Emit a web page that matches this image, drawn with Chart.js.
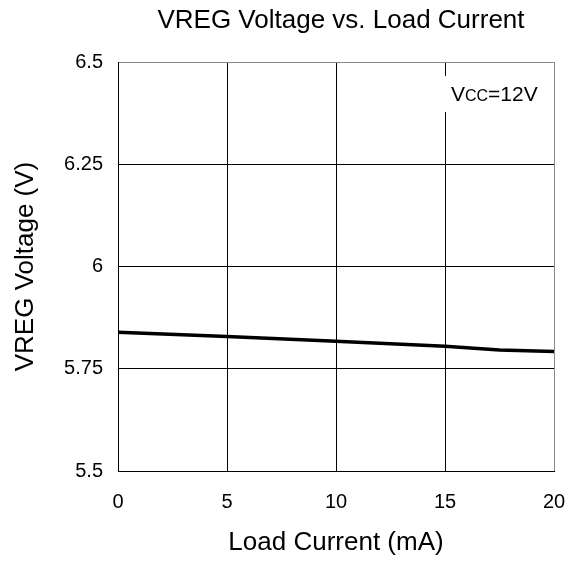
<!DOCTYPE html>
<html lang="en">
<head>
  <meta charset="UTF-8" />
  <title>VREG Voltage vs. Load Current</title>
  <script src="https://cdn.jsdelivr.net/npm/chart.js"></script>
  <style>
    html, body { margin: 0; padding: 0; background: #fff; }
    #wrap { width: 575px; height: 563px; position: relative; }
  </style>
</head>
<body>
  <div id="wrap"><canvas id="vregChart"></canvas></div>

  <script>
    // data
    const loadCurrent = [0, 5, 10, 15, 17.5, 20];
    const vregVoltage = [5.839, 5.829, 5.817, 5.805, 5.796, 5.792];

    const xTickValues = [0, 5, 10, 15, 20];
    const xTickLabels = ['0', '5', '10', '15', '20'];
    const yTickValues = [5.5, 5.75, 6, 6.25, 6.5];
    const yTickLabels = ['5.5', '5.75', '6', '6.25', '6.5'];

    const chartTitle = 'VREG Voltage vs. Load Current';
    const FONT = 'Liberation Sans, Arial, sans-serif';

    // title centred over the plot area, not the whole canvas
    const plotTitle = {
      id: 'plotTitle',
      afterDraw(chart) {
        const { ctx, chartArea } = chart;
        ctx.save();
        ctx.fillStyle = '#000';
        ctx.font = '26px ' + FONT;
        ctx.textAlign = 'center';
        ctx.textBaseline = 'middle';
        ctx.fillText(chartTitle, (chartArea.left + chartArea.right) / 2 + 5, 21);
        ctx.restore();
      }
    };

    // white label box "VCC=12V" in the upper right corner
    const vccLabel = {
      id: 'vccLabel',
      afterDatasetsDraw(chart) {
        const { ctx, scales: { x, y } } = chart;
        const left = x.getPixelForValue(14.95);
        const right = x.right - 1;
        const top = y.getPixelForValue(6.466);
        const bottom = y.getPixelForValue(6.378);
        ctx.save();
        ctx.fillStyle = '#fff';
        ctx.fillRect(left, top, right - left, bottom - top);
        ctx.fillStyle = '#000';
        ctx.textBaseline = 'alphabetic';
        let tx = left + 7;
        const base = (top + bottom) / 2 + 7;
        ctx.font = '21px ' + FONT;
        ctx.fillText('V', tx, base);
        tx += ctx.measureText('V').width;
        ctx.font = '16px ' + FONT;
        ctx.fillText('CC', tx, base);
        tx += ctx.measureText('CC').width;
        ctx.font = '21px ' + FONT;
        ctx.fillText('=12V', tx, base);
        ctx.restore();
      }
    };

    const ctx = document.getElementById('vregChart').getContext('2d');
    new Chart(ctx, {
      type: 'scatter',
      data: {
        datasets: [{
          data: loadCurrent.map((v, i) => ({ x: v, y: vregVoltage[i] })),
          showLine: true,
          borderColor: '#000',
          borderWidth: 3.5,
          pointRadius: 0,
          tension: 0,
          fill: false
        }]
      },
      options: {
        responsive: true,
        maintainAspectRatio: false,
        animation: false,
        layout: { padding: { left: 0, right: 21, top: 62, bottom: 0 } },
        plugins: {
          legend: { display: false },
          tooltip: { enabled: false },
          title: { display: false }
        },
        scales: {
          x: {
            type: 'linear',
            min: 0,
            max: 20,
            afterBuildTicks: (s) => { s.ticks = xTickValues.map(v => ({ value: v })); },
            afterFit: (s) => { s.height = 92; s.paddingRight = 0; s.paddingLeft = 0; },
            ticks: {
              color: '#000',
              padding: 19,
              maxRotation: 0,
              font: { family: FONT, size: 20 },
              callback: (v) => xTickLabels[xTickValues.indexOf(v)]
            },
            grid: {
              drawTicks: false,
              lineWidth: 1,
              color: (c) => c.tick && c.tick.value === 20 ? '#888' : '#000'
            },
            border: { color: '#000', width: 1 },
            title: {
              display: true,
              text: 'Load Current (mA)',
              color: '#000',
              font: { family: FONT, size: 26, weight: 'normal' },
              padding: { top: 0, bottom: 5 }
            }
          },
          y: {
            type: 'linear',
            min: 5.5,
            max: 6.5,
            afterBuildTicks: (s) => { s.ticks = yTickValues.map(v => ({ value: v })); },
            afterFit: (s) => { s.width = 118; },
            ticks: {
              color: '#000',
              padding: 15,
              font: { family: FONT, size: 20 },
              callback: (v) => yTickLabels[yTickValues.indexOf(v)]
            },
            grid: {
              drawTicks: false,
              lineWidth: 1,
              color: (c) => c.tick && c.tick.value === 6.5 ? '#888' : '#000'
            },
            border: { color: '#000', width: 1 },
            title: {
              display: true,
              text: 'VREG Voltage (V)',
              color: '#000',
              font: { family: FONT, size: 26, weight: 'normal' },
              padding: { top: 10, bottom: 0 }
            }
          }
        }
      },
      plugins: [vccLabel, plotTitle]
    });
  </script>
</body>
</html>
